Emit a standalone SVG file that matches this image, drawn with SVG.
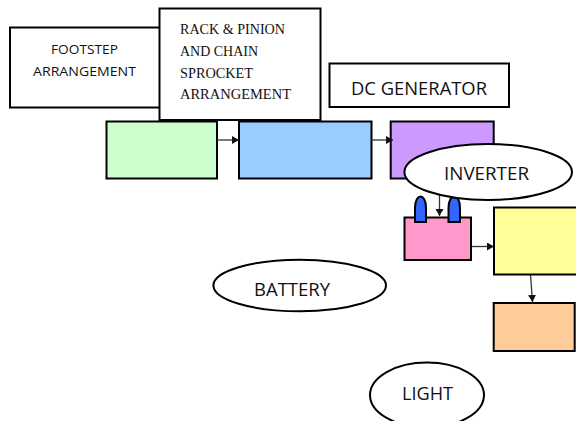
<svg xmlns="http://www.w3.org/2000/svg" width="576" height="421" viewBox="0 0 576 421">
<style>
.s{stroke:#000;stroke-width:2}
.w{fill:#fff}
.t{font-family:"Open Sans","Noto Sans",sans-serif;fill:#111;text-anchor:middle}
.r{font-family:"Liberation Serif",serif;fill:#111;font-size:15px}
.c{stroke:#333;stroke-width:1.3;fill:none;marker-end:url(#a)}
</style>
<defs><marker id="a" markerUnits="userSpaceOnUse" markerWidth="9" markerHeight="9" refX="7" refY="4" orient="auto"><path d="M0 0L7 4L0 8z" fill="#111"/></marker></defs>
<rect width="576" height="421" fill="#fff"/>
<g id="footstep"><rect class="s w" x="10" y="27.500" width="150" height="80"/><text class="t" font-size="13.500" x="84.500" y="54" textLength="67" lengthAdjust="spacingAndGlyphs">FOOTSTEP</text><text class="t" font-size="13.500" x="84.500" y="76" textLength="103" lengthAdjust="spacingAndGlyphs">ARRANGEMENT</text></g>
<g id="rack"><rect class="s w" x="159.500" y="8.500" width="161" height="111.500"/><text class="r" x="180" y="34" textLength="105" lengthAdjust="spacingAndGlyphs">RACK &amp; PINION</text><text class="r" x="180" y="56" textLength="78" lengthAdjust="spacingAndGlyphs">AND CHAIN</text><text class="r" x="180" y="78" textLength="73" lengthAdjust="spacingAndGlyphs">SPROCKET</text><text class="r" x="180" y="99" textLength="111" lengthAdjust="spacingAndGlyphs">ARRANGEMENT</text></g>
<g id="dc"><rect class="s w" x="329.500" y="63.500" width="179.500" height="43.500"/><text class="t" font-size="18" x="419" y="95" textLength="136" lengthAdjust="spacingAndGlyphs">DC GENERATOR</text></g>
<g id="green"><rect class="s" fill="#ccffcc" x="106.500" y="121.500" width="110.500" height="57"/></g>
<g id="blue"><rect class="s" fill="#99ccff" x="239" y="121.500" width="132.500" height="57"/></g>
<g id="purple"><rect class="s" fill="#cc99ff" x="390.700" y="121.500" width="103" height="57"/></g>
<g id="connectors">
<path class="c" d="M217 140H239"/>
<path class="c" d="M371.500 140H393"/>
<path class="c" d="M439.500 195V216"/>
<path class="c" d="M471 246.500H494"/>
<path class="c" d="M530.500 274.500L532.500 302"/>
</g>
<g id="pink"><rect class="s" fill="#ff99cc" x="404.500" y="217.500" width="66.500" height="42.500"/></g>
<g id="bump1"><path class="s" fill="#3366ff" d="M415 222V208C415 200 418 196.500 420.500 196.500C423 196.500 426 200 426 208V222Z"/></g>
<g id="bump2"><path class="s" fill="#3366ff" d="M448.500 222V208C448.500 200 451.500 196.500 454.250 196.500C457 196.500 460 200 460 208V222Z"/></g>
<g id="inverter"><ellipse class="s w" cx="488.200" cy="172" rx="83.800" ry="28"/><text class="t" font-size="18" x="486.500" y="179.500" textLength="85" lengthAdjust="spacingAndGlyphs">INVERTER</text></g>
<g id="yellow"><rect class="s" fill="#ffff99" x="494" y="207.500" width="90" height="67"/></g>
<g id="orange"><rect class="s" fill="#ffcc99" x="493.700" y="303" width="81" height="48"/></g>
<g id="battery"><ellipse class="s w" cx="299.700" cy="285.500" rx="86.300" ry="25.800"/><text class="t" font-size="18" x="292" y="295.500" textLength="76" lengthAdjust="spacingAndGlyphs">BATTERY</text></g>
<g id="light"><ellipse class="s w" cx="427" cy="395" rx="57" ry="32.500"/><text class="t" font-size="18" x="427.500" y="400" textLength="51" lengthAdjust="spacingAndGlyphs">LIGHT</text></g>
</svg>
